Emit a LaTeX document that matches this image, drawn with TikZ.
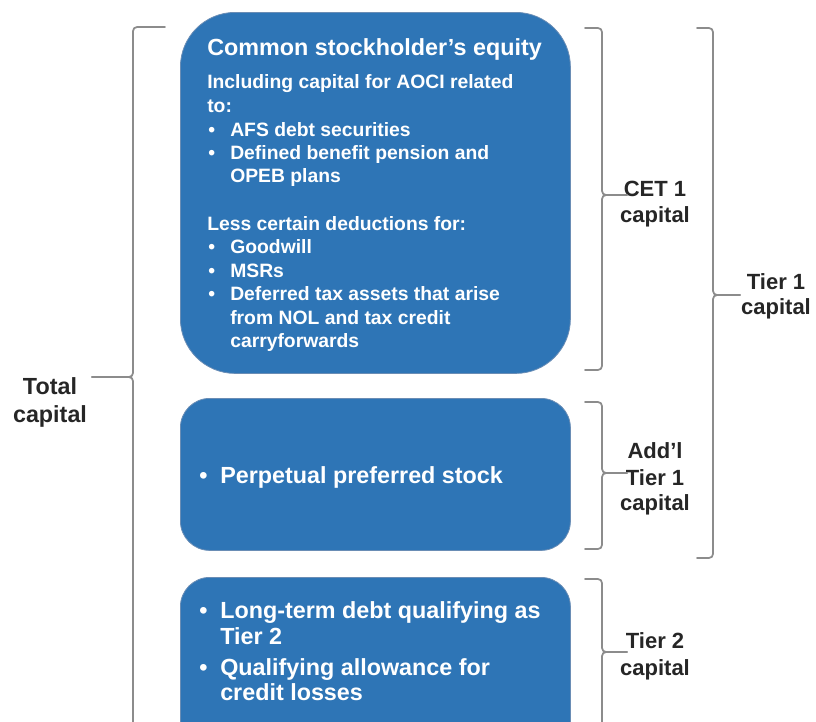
\documentclass[tikz,border=0pt]{standalone}
\usepackage{fontspec}
\setmainfont{Liberation Sans}
\definecolor{boxblue}{HTML}{2E75B6}
\definecolor{boxedge}{HTML}{6A8DB5}
\definecolor{bracegray}{HTML}{8C8C8C}
\definecolor{labelgray}{HTML}{262626}
\begin{document}
\begin{tikzpicture}[x=0.75pt,y=-0.75pt,
  capbox/.style={draw=boxedge, line width=0.6pt, fill=boxblue, inner sep=0pt},
  wline/.style={anchor=base west, inner sep=0pt, text=white, font=\bfseries\fontsize{14.5}{17.6}\selectfont},
  wbig/.style={wline, font=\bfseries\fontsize{17.5}{21}\selectfont},
  lbl/.style={anchor=base, inner sep=0pt, text=labelgray, font=\bfseries\fontsize{16.5}{19.5}\selectfont},
  tlbl/.style={lbl, font=\bfseries\fontsize{17.5}{21}\selectfont},
  brace/.style={draw=bracegray, line width=1.3pt, rounded corners=3pt, line cap=round}
]
\useasboundingbox (0,0) rectangle (816,721);
\clip (0,0) rectangle (816,721);

% boxes
\node[capbox, rounded corners=41pt, minimum width=292.5pt, minimum height=270.75pt, anchor=north west] (cse) at (180,12) {};
\node[capbox, rounded corners=22pt, minimum width=292.5pt, minimum height=114pt, anchor=north west] (pps) at (180,398) {};
\node[capbox, rounded corners=22pt, minimum width=292.5pt, minimum height=150pt, anchor=north west] (ltd) at (180,577) {};

% box 1 text
\node[wbig] (t0) at (207,55.7) {Common stockholder’s equity};
\node[wline] (t1) at (207,88) {Including capital for AOCI related};
\node[wline] (t2) at (207,112) {to:};
\node[wline] (b3) at (208,136) {•};
\node[wline] (t3) at (230,136) {AFS debt securities};
\node[wline] (b4) at (208,159) {•};
\node[wline] (t4) at (230,159) {Defined benefit pension and};
\node[wline] (t5) at (230,182) {OPEB plans};
\node[wline] (t6) at (207,230) {Less certain deductions for:};
\node[wline] (b7) at (208,253) {•};
\node[wline] (t7) at (230,253) {Goodwill};
\node[wline] (b8) at (208,277) {•};
\node[wline] (t8) at (230,277) {MSRs};
\node[wline] (b9) at (208,300) {•};
\node[wline] (t9) at (230,300) {Deferred tax assets that arise};
\node[wline] (t10) at (230,324) {from NOL and tax credit};
\node[wline] (t11) at (230,347) {carryforwards};

% box 2 text
\node[wbig] (b12) at (199,483) {•};
\node[wbig] (t12) at (220,483) {Perpetual preferred stock};

% box 3 text
\node[wbig] (b13) at (199,618) {•};
\node[wbig] (t13) at (220,618) {Long-term debt qualifying as};
\node[wbig] (t14) at (220,644) {Tier 2};
\node[wbig] (b15) at (199,675) {•};
\node[wbig] (t15) at (220,675) {Qualifying allowance for};
\node[wbig] (t16) at (220,700) {credit losses};

% labels
\node[tlbl] (tc1) at (50,394) {Total};
\node[tlbl] (tc2) at (50,422) {capital};
\node[lbl] (c1) at (655,196) {CET 1};
\node[lbl] (c2) at (655,222) {capital};
\node[lbl] (r1) at (776,289) {Tier 1};
\node[lbl] (r2) at (776,314) {capital};
\node[lbl] (a1) at (655,458) {Add’l};
\node[lbl] (a2) at (655,485) {Tier 1};
\node[lbl] (a3) at (655,510) {capital};
\node[lbl] (s1) at (655,648) {Tier 2};
\node[lbl] (s2) at (655,675) {capital};

% braces
% total capital (opens right, tip left)
\draw[brace] (165,27) -- (133,27) -- (133,377) -- (92,377);
\draw[brace] (92,377) -- (133,377) -- (133,760);
% CET1
\draw[brace] (585,28) -- (602,28) -- (602,195) -- (627,195);
\draw[brace] (627,195) -- (602,195) -- (602,370) -- (585,370);
% Tier 1
\draw[brace] (697,28) -- (713,28) -- (713,295) -- (740,295);
\draw[brace] (740,295) -- (713,295) -- (713,558) -- (697,558);
% Add'l Tier 1
\draw[brace] (585,402) -- (602,402) -- (602,473) -- (627,473);
\draw[brace] (627,473) -- (602,473) -- (602,549) -- (585,549);
% Tier 2
\draw[brace] (585,579) -- (602,579) -- (602,652) -- (627,652);
\draw[brace] (627,652) -- (602,652) -- (602,760);
\end{tikzpicture}
\end{document}
